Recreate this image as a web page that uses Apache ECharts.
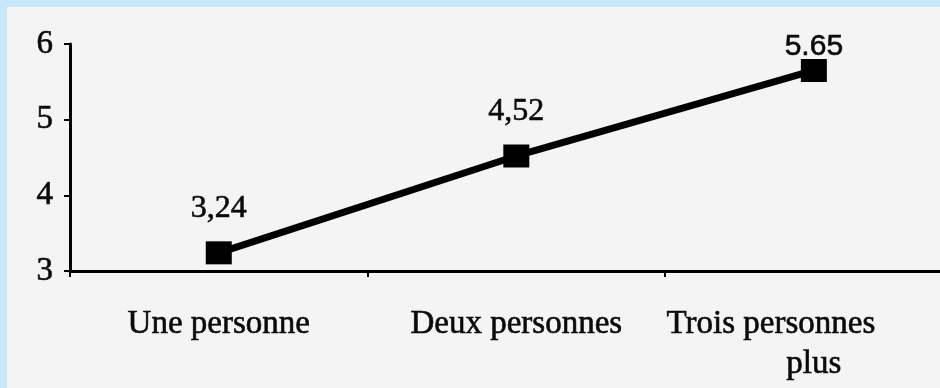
<!DOCTYPE html>
<html>
<head>
<meta charset="utf-8">
<script src="https://cdn.jsdelivr.net/npm/echarts@6/dist/echarts.min.js"></script>
<style>
  html, body { margin: 0; padding: 0; width: 940px; height: 388px; background: #c6e8fa; overflow: hidden; }
  /* the canvas runs past the right edge of the window: the last category is cut off */
  #chart { position: absolute; left: 7px; top: 7px; width: 957px; height: 381px; background: #f4f4f4; }
</style>
</head>
<body>
<div id="chart"></div>
<script>
// Household size categories and mean values
const categories = ['Une personne', 'Deux personnes', 'Trois personnes plus'];
const values = [3.24, 4.52, 5.65];
const valueLabels = ['3,24', '4,52', '5.65'];
const yTicks = [3, 4, 5, 6];

const serif = '"Liberation Serif", "DejaVu Serif", serif';
const sans = '"Liberation Sans", Arial, sans-serif';
const ink = '#0a0a0a';
// a thin stroke in the text colour gives the heavier print look
const heavy = { textBorderColor: ink, textBorderWidth: 0.6 };

const chart = echarts.init(document.getElementById('chart'), null, { renderer: 'canvas' });

const seriesData = values.map((v, i) => ({
  value: v,
  label: i === 2
    ? { formatter: valueLabels[i], fontFamily: sans, fontSize: 30, distance: 1, offset: [0, 4] }
    : { formatter: valueLabels[i], fontFamily: serif, fontSize: 32 }
}));

chart.setOption({
  animation: false,
  backgroundColor: '#f4f4f4',
  grid: { left: 63, top: 37, width: 894, height: 227, containLabel: false },
  xAxis: {
    type: 'category',
    data: categories,
    boundaryGap: true,
    axisLine: { lineStyle: { color: '#000', width: 3 } },
    axisTick: { show: true, inside: false, length: 6, lineStyle: { color: '#000', width: 2 } },
    axisLabel: Object.assign({
      interval: 0,
      hideOverlap: false,
      color: ink,
      fontFamily: serif,
      fontSize: 33,
      margin: 33,
      lineHeight: 40,
      formatter: (val) => val === 'Trois personnes plus' ? '{a|Trois personnes}\n{b|plus}' : val,
      rich: {
        a: Object.assign({ fontFamily: serif, fontSize: 33, color: ink, lineHeight: 40, padding: [0, 86, 0, 0] }, heavy),
        b: Object.assign({ fontFamily: serif, fontSize: 33, color: ink, lineHeight: 40 }, heavy)
      }
    }, heavy),
    splitLine: { show: false }
  },
  yAxis: {
    type: 'value',
    min: yTicks[0],
    max: yTicks[yTicks.length - 1],
    interval: 1,
    axisLine: { show: true, lineStyle: { color: '#000', width: 3 } },
    axisTick: { show: true, length: 6, lineStyle: { color: '#000', width: 2 } },
    axisLabel: Object.assign({ color: ink, fontFamily: serif, fontSize: 33, margin: 17 }, heavy),
    splitLine: { show: false }
  },
  series: [{
    type: 'line',
    data: seriesData,
    symbol: 'rect',
    symbolSize: [26, 23],
    lineStyle: { color: '#000', width: 7 },
    itemStyle: { color: '#000' },
    label: Object.assign({
      show: true,
      position: 'top',
      distance: 17,
      color: ink
    }, heavy)
  }]
});
</script>
</body>
</html>
